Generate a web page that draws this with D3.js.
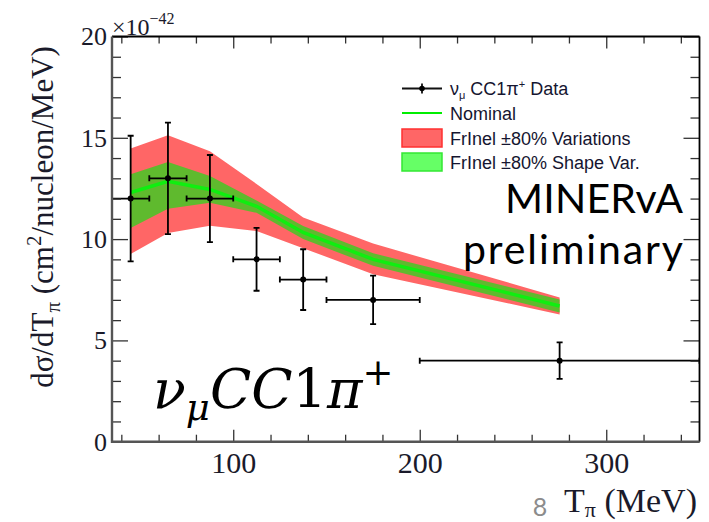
<!DOCTYPE html>
<html>
<head>
<meta charset="utf-8">
<script src="https://cdn.jsdelivr.net/npm/d3@7"></script>
<style>
  html, body { margin: 0; padding: 0; background: #fff; }
  svg { display: block; }
</style>
</head>
<body>
<svg id="chart" width="709" height="522"></svg>
<script>
// Pion kinetic energy bins (MeV)
const binCenters = [45, 65, 87.5, 112.5, 137.5, 175, 275];
const binLow     = [35, 55, 75, 100, 125, 150, 200];
const binHigh    = [55, 75, 100, 125, 150, 200, 350];

// Measured cross section (x1e-42 cm^2/nucleon/MeV) and uncertainty
const dataValues = [12, 13, 12, 9, 8, 7, 4];
const dataErrors = [3.1, 2.75, 2.15, 1.55, 1.5, 1.2, 0.9];

// Model prediction: nominal and FrInel variation envelopes
const nominal    = [12.3, 12.85, 12.45, 11.62, 10.33, 9.0, 6.7];
const shapeHigh  = [13.2, 13.8, 13.12, 11.9, 10.65, 9.3, 7.02];
const shapeLow   = [10.55, 11.5, 11.8, 11.3, 10.0, 8.68, 6.38];
const fullHigh   = [14.47, 15.13, 14.33, 12.72, 11.07, 9.78, 7.12];
const fullLow    = [9.26, 10.3, 10.66, 10.4, 9.55, 8.27, 6.28];

// Axis ticks
const xMajorTicks = [100, 200, 300];
const xMinorTicks = [40, 60, 80, 120, 140, 160, 180, 220, 240, 260, 280, 320, 340];
const yMajorTicks = [0, 5, 10, 15, 20];
const yMinorTicks = [1, 2, 3, 4, 6, 7, 8, 9, 11, 12, 13, 14, 16, 17, 18, 19];

const legendLabels = ["Data", "Nominal", "FrInel \u00b180% Variations", "FrInel \u00b180% Shape Var."];

const svg = d3.select("#chart");
const pLeft = 112, pRight = 699.5, pTop = 36.5, pBottom = 441.7;

const x = d3.scaleLinear().domain([35, 350]).range([pLeft, pRight]);
const y = d3.scaleLinear().domain([0, 20]).range([pBottom, pTop]);

const serif = "'Liberation Serif', 'Times New Roman', serif";
const sans = "'Liberation Sans', Arial, sans-serif";

svg.append("defs").append("clipPath").attr("id", "plotClip")
  .append("rect").attr("x", pLeft).attr("y", pTop)
  .attr("width", pRight - pLeft).attr("height", pBottom - pTop);

const plot = svg.append("g").attr("clip-path", "url(#plotClip)");

const pts = binCenters.map((c, i) => ({
  c, lo: binLow[i], hi: binHigh[i], v: dataValues[i], e: dataErrors[i],
  nom: nominal[i], sh: shapeHigh[i], sl: shapeLow[i], fh: fullHigh[i], fl: fullLow[i]
}));

// Bands
const area = (hiKey, loKey) => d3.area()
  .x(d => x(d.c)).y0(d => y(d[loKey])).y1(d => y(d[hiKey]));

plot.append("path").attr("d", area("fh", "fl")(pts)).attr("fill", "#ff6666");
plot.append("path").attr("d", area("sh", "sl")(pts)).attr("fill", "#5fba2e");
plot.append("path")
  .attr("d", d3.line().x(d => x(d.c)).y(d => y(d.nom))(pts))
  .attr("fill", "none").attr("stroke", "#10ee10").attr("stroke-width", 3.5);

// Data points with error bars
const dataG = plot.append("g").attr("stroke", "#000").attr("stroke-width", 1.8);
const cap = 3;
pts.forEach(d => {
  const cx = x(d.c), cy = y(d.v);
  dataG.append("line").attr("x1", x(d.lo)).attr("x2", x(d.hi)).attr("y1", cy).attr("y2", cy);
  dataG.append("line").attr("x1", cx).attr("x2", cx).attr("y1", y(d.v + d.e)).attr("y2", y(d.v - d.e));
  dataG.append("line").attr("x1", cx - cap).attr("x2", cx + cap).attr("y1", y(d.v + d.e)).attr("y2", y(d.v + d.e));
  dataG.append("line").attr("x1", cx - cap).attr("x2", cx + cap).attr("y1", y(d.v - d.e)).attr("y2", y(d.v - d.e));
  dataG.append("line").attr("x1", x(d.lo)).attr("x2", x(d.lo)).attr("y1", cy - cap).attr("y2", cy + cap);
  dataG.append("line").attr("x1", x(d.hi)).attr("x2", x(d.hi)).attr("y1", cy - cap).attr("y2", cy + cap);
  dataG.append("circle").attr("cx", cx).attr("cy", cy).attr("r", 3).attr("fill", "#000").attr("stroke", "none");
});

// Axes
function styleAxis(g) {
  g.select(".domain").remove();
  g.selectAll(".tick line").attr("stroke", "#333").attr("stroke-width", 1.3);
}
svg.append("g").attr("transform", `translate(0,${pBottom})`)
  .call(d3.axisBottom(x).tickValues(xMinorTicks).tickSize(-7).tickFormat(""))
  .call(styleAxis);
svg.append("g").attr("transform", `translate(0,${pBottom})`)
  .call(d3.axisBottom(x).tickValues(xMajorTicks).tickSize(-12).tickPadding(10))
  .call(styleAxis)
  .call(g => g.selectAll("text").attr("font-family", serif).attr("font-size", 30).attr("fill", "#1a1a2a"));
svg.append("g").attr("transform", `translate(0,${pTop})`)
  .call(d3.axisTop(x).tickValues(xMinorTicks).tickSize(-7).tickFormat(""))
  .call(styleAxis);
svg.append("g").attr("transform", `translate(0,${pTop})`)
  .call(d3.axisTop(x).tickValues(xMajorTicks).tickSize(-12).tickFormat(""))
  .call(styleAxis);

svg.append("g").attr("transform", `translate(${pLeft},0)`)
  .call(d3.axisLeft(y).tickValues(yMinorTicks).tickSize(-9).tickFormat(""))
  .call(styleAxis);
svg.append("g").attr("transform", `translate(${pLeft},0)`)
  .call(d3.axisLeft(y).tickValues(yMajorTicks).tickSize(-16).tickPadding(5))
  .call(styleAxis)
  .call(g => g.selectAll("text").attr("font-family", serif).attr("font-size", 26).attr("fill", "#1a1a2a"));
svg.append("g").attr("transform", `translate(${pRight},0)`)
  .call(d3.axisRight(y).tickValues(yMinorTicks).tickSize(-9).tickFormat(""))
  .call(styleAxis);
svg.append("g").attr("transform", `translate(${pRight},0)`)
  .call(d3.axisRight(y).tickValues(yMajorTicks).tickSize(-16).tickFormat(""))
  .call(styleAxis);

// Frame
svg.append("line").attr("x1", pLeft).attr("x2", pRight).attr("y1", pTop).attr("y2", pTop)
  .attr("stroke", "#000").attr("stroke-width", 1.8);
svg.append("line").attr("x1", pRight).attr("x2", pRight).attr("y1", pTop).attr("y2", pBottom)
  .attr("stroke", "#000").attr("stroke-width", 1.8);
svg.append("line").attr("x1", pLeft).attr("x2", pRight).attr("y1", pBottom).attr("y2", pBottom)
  .attr("stroke", "#555").attr("stroke-width", 2.4);
svg.append("line").attr("x1", pLeft).attr("x2", pLeft).attr("y1", pTop).attr("y2", pBottom + 1.2)
  .attr("stroke", "#555").attr("stroke-width", 2.4);

// Exponent label
const expo = svg.append("text").attr("x", pLeft).attr("y", 35)
  .attr("font-family", serif).attr("font-size", 24).attr("fill", "#1a1a2a");
expo.append("tspan").text("\u00d710");
expo.append("tspan").attr("font-size", 16).attr("dy", -11).text("\u221242");

// Axis titles
const yt = svg.append("text").attr("transform", "translate(53,217) rotate(-90)")
  .attr("text-anchor", "middle").attr("font-family", serif).attr("font-size", 31).attr("fill", "#1a1a2a");
yt.append("tspan").text("d\u03c3/dT");
yt.append("tspan").attr("font-size", 21).attr("dy", 7).text("\u03c0");
yt.append("tspan").attr("dy", -7).text(" (cm");
yt.append("tspan").attr("font-size", 21).attr("dy", -12).text("2");
yt.append("tspan").attr("dy", 12).text("/nucleon/MeV)");

const xt = svg.append("text").attr("x", 697).attr("y", 512).attr("text-anchor", "end")
  .attr("font-family", serif).attr("font-size", 34).attr("fill", "#1a1a2a");
xt.append("tspan").text("T");
xt.append("tspan").attr("font-size", 22).attr("dy", 5).text("\u03c0");
xt.append("tspan").attr("dy", -5).text(" (MeV)");

svg.append("text").attr("x", 540).attr("y", 516).attr("text-anchor", "middle")
  .attr("font-family", "Lato, 'Open Sans', sans-serif").attr("font-size", 25).attr("fill", "#8c8c8c").text("8");

// Legend
const lg = svg.append("g").attr("font-family", sans).attr("font-size", 18).attr("fill", "#151530");
const rowY = [88.5, 113, 138, 162];
const lx0 = 402, lx1 = 442, tx = 450;
lg.append("line").attr("x1", lx0).attr("x2", lx1).attr("y1", rowY[0]).attr("y2", rowY[0])
  .attr("stroke", "#111").attr("stroke-width", 1.8);
lg.append("line").attr("x1", (lx0 + lx1) / 2).attr("x2", (lx0 + lx1) / 2).attr("y1", rowY[0] - 5).attr("y2", rowY[0] + 5)
  .attr("stroke", "#111").attr("stroke-width", 1.8);
lg.append("circle").attr("cx", (lx0 + lx1) / 2).attr("cy", rowY[0]).attr("r", 2.8).attr("fill", "#000");
const l0 = lg.append("text").attr("x", tx).attr("y", rowY[0] + 6.5);
l0.append("tspan").text("\u03bd");
l0.append("tspan").attr("font-size", 11).attr("dy", 4).text("\u03bc");
l0.append("tspan").attr("dy", -4).text(" CC1\u03c0");
l0.append("tspan").attr("font-size", 11).attr("dy", -7).text("+");
l0.append("tspan").attr("dy", 7).text(" " + legendLabels[0]);

lg.append("line").attr("x1", lx0).attr("x2", lx1).attr("y1", rowY[1]).attr("y2", rowY[1])
  .attr("stroke", "#00ee00").attr("stroke-width", 2);
lg.append("text").attr("x", tx).attr("y", rowY[1] + 6.5).text(legendLabels[1]);

lg.append("rect").attr("x", lx0).attr("y", rowY[2] - 9).attr("width", lx1 - lx0).attr("height", 18)
  .attr("fill", "#ff6666").attr("stroke", "#ff3030").attr("stroke-width", 1.5);
lg.append("text").attr("x", tx).attr("y", rowY[2] + 6.5).text(legendLabels[2]);

lg.append("rect").attr("x", lx0).attr("y", rowY[3] - 9).attr("width", lx1 - lx0).attr("height", 18)
  .attr("fill", "#66ff66").attr("stroke", "#33e833").attr("stroke-width", 1.5);
lg.append("text").attr("x", tx).attr("y", rowY[3] + 6.5).text(legendLabels[3]);

// Annotations
const ann = svg.append("g").attr("font-family", "Lato, 'Open Sans', sans-serif")
  .attr("font-size", 41).attr("fill", "#000");
ann.append("text").attr("x", 505).attr("y", 213)
  .attr("textLength", 178).attr("lengthAdjust", "spacing").text("MINERvA");
ann.append("text").attr("x", 463).attr("y", 264)
  .attr("textLength", 220).attr("lengthAdjust", "spacing").text("preliminary");

const proc = svg.append("text").attr("x", 153).attr("y", 408)
  .attr("font-family", "'DejaVu Serif', serif").attr("font-size", 54).attr("fill", "#000");
proc.append("tspan").attr("font-style", "italic").text("\u03bd");
proc.append("tspan").attr("font-style", "italic").attr("font-size", 37).attr("dy", 12).text("\u03bc");
proc.append("tspan").attr("font-style", "italic").attr("dy", -12).text("CC");
proc.append("tspan").text("1");
proc.append("tspan").attr("font-style", "italic").text("\u03c0");
proc.append("tspan").attr("font-size", 37).attr("dy", -23).text("+");
</script>
</body>
</html>
